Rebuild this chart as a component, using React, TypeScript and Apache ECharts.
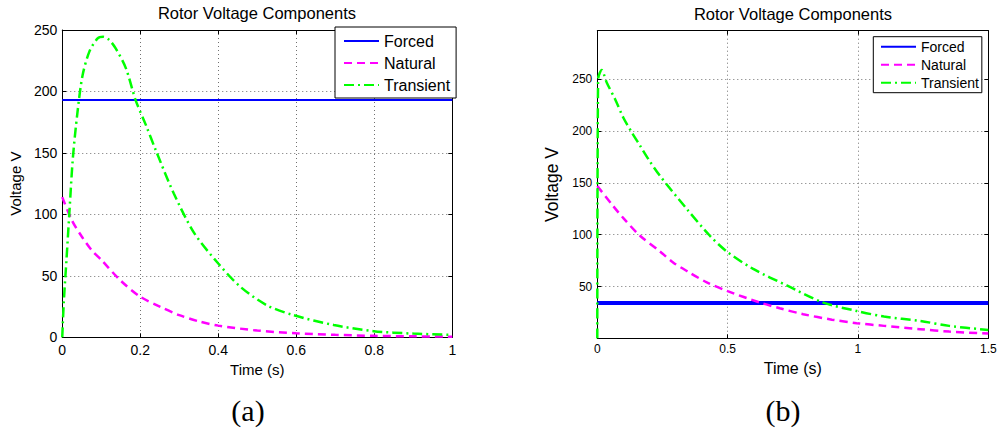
import React, { useEffect, useRef } from "react";
import * as echarts from "echarts";

// ---------- data ----------
const titleText = "Rotor Voltage Components";
const seriesNames = ["Forced", "Natural", "Transient"];

// (a)
const aForcedT = [0, 1];
const aForcedV = [193, 193];
const aNaturalT = [0, 0.025, 0.05, 0.075, 0.1, 0.15, 0.2, 0.25, 0.3, 0.35, 0.4, 0.5, 0.6, 0.7, 0.8, 0.9, 1.0];
const aNaturalV = [114, 95, 82, 71, 63, 46, 33, 25, 18, 13, 9.5, 5.5, 3.3, 2, 1.2, 0.8, 0.5];
const aTransientT = [0, 0.004, 0.011, 0.018, 0.027, 0.039, 0.052, 0.069, 0.09, 0.105, 0.12, 0.137, 0.163, 0.188, 0.214, 0.24, 0.286, 0.338, 0.4, 0.457, 0.525, 0.593, 0.696, 0.798, 0.9, 1.0];
const aTransientV = [0, 29, 64, 100, 145, 183, 213, 232, 243, 244.5, 242, 235, 219, 193, 173, 152, 117, 85, 60, 41, 26, 18, 10, 5, 3, 2];

// (b)
const bForcedT = [0, 1.5];
const bForcedV = [34, 34];
const bNaturalT = [0, 0.06, 0.1, 0.164, 0.24, 0.292, 0.35, 0.42, 0.5, 0.624, 0.7, 0.79, 0.9, 0.995, 1.1, 1.238, 1.35, 1.5];
const bNaturalV = [147, 128, 116, 99, 84, 73, 64, 54, 45.5, 34.5, 29, 23.3, 18, 14.6, 12, 8.8, 6.5, 4.6];
const bTransientT = [0, 0.003, 0.017, 0.036, 0.068, 0.1, 0.132, 0.164, 0.196, 0.24, 0.343, 0.432, 0.496, 0.598, 0.727, 0.867, 0.995, 1.1, 1.238, 1.35, 1.5];
const bTransientV = [0, 250, 259, 247, 231, 213, 199, 186, 173, 157, 125, 99, 84, 67, 51, 34.5, 26.4, 21, 16.8, 12, 8.1];

const FONT = '"Liberation Sans", Arial, Helvetica, sans-serif';
const BLUE = "#0000ff";
const MAGENTA = "#ff00ff";
const GREEN = "#00ff00";

const zip = (t: number[], v: number[]) => t.map((x, i) => [x, v[i]]);

type Cfg = {
  grid: { left: number; top: number; width: number; height: number };
  xMax: number;
  xInterval: number;
  yMax: number;
  hideMinMaxY: boolean;
  tickFont: number;
  xLabelMargin: number;
  xNameGap: number;
  xNameFont: number;
  yNameGap: number;
  yNameFont: number;
  titleX: number;
  titleY: number;
  caption: string;
  captionX: number;
  legend: { left: number; top: number; padding: number[]; font: number; itemHeight: number; itemGap: number };
  forcedWidth: number;
  forced: number[][];
  natural: number[][];
  transient: number[][];
};

function makeOption(c: Cfg): any {
  const gridLine = { show: true, lineStyle: { color: "#707070", type: [1, 3], width: 1 } };
  const axisLine = { show: true, onZero: false, lineStyle: { color: "#000", width: 1 } };
  const tick = { show: true, inside: true, length: 4, lineStyle: { color: "#000" } };
  const hidden = { opacity: 0 };
  return {
    animation: false,
    grid: { ...c.grid, containLabel: false },
    graphic: [
      {
        type: "text",
        x: c.titleX,
        y: c.titleY,
        style: { text: titleText, align: "center", verticalAlign: "middle", font: `16.5px ${FONT}`, fill: "#000" },
      },
      {
        type: "text",
        x: c.captionX,
        y: 410,
        style: { text: c.caption, align: "center", verticalAlign: "middle", font: `30px "Liberation Serif", "DejaVu Serif", serif`, fill: "#000" },
      },
    ],
    legend: {
      orient: "vertical",
      left: c.legend.left,
      top: c.legend.top,
      padding: c.legend.padding,
      itemWidth: 35,
      itemHeight: c.legend.itemHeight,
      itemGap: c.legend.itemGap,
      backgroundColor: "#fff",
      borderColor: "#000",
      borderWidth: 1,
      borderRadius: 0,
      z: 10,
      itemStyle: hidden,
      textStyle: { fontFamily: FONT, fontSize: c.legend.font, color: "#000" },
      data: seriesNames,
    },
    xAxis: [
      {
        type: "value",
        min: 0,
        max: c.xMax,
        interval: c.xInterval,
        name: "Time (s)",
        nameLocation: "middle",
        nameGap: c.xNameGap,
        nameTextStyle: { fontFamily: FONT, fontSize: c.xNameFont, color: "#000" },
        axisLine,
        axisTick: tick,
        axisLabel: { fontFamily: FONT, fontSize: c.tickFont, color: "#000", margin: c.xLabelMargin },
        splitLine: gridLine,
      },
      {
        type: "value",
        position: "top",
        min: 0,
        max: c.xMax,
        interval: c.xInterval,
        axisLine,
        axisTick: tick,
        axisLabel: { show: false },
        splitLine: { show: false },
      },
    ],
    yAxis: [
      {
        type: "value",
        min: 0,
        max: c.yMax,
        interval: 50,
        name: "Voltage V",
        nameLocation: "middle",
        nameGap: c.yNameGap,
        nameTextStyle: { fontFamily: FONT, fontSize: c.yNameFont, color: "#000" },
        axisLine,
        axisTick: tick,
        axisLabel: {
          fontFamily: FONT,
          fontSize: c.tickFont,
          color: "#000",
          margin: 5,
          showMinLabel: !c.hideMinMaxY,
          showMaxLabel: !c.hideMinMaxY,
        },
        splitLine: gridLine,
      },
      {
        type: "value",
        position: "right",
        min: 0,
        max: c.yMax,
        interval: 50,
        axisLine,
        axisTick: tick,
        axisLabel: { show: false },
        splitLine: { show: false },
      },
    ],
    series: [
      {
        name: "Forced",
        type: "line",
        data: c.forced,
        symbol: "none",
        lineStyle: { color: BLUE, width: c.forcedWidth, type: "solid" },
        itemStyle: { color: BLUE, opacity: 0 },
        z: 3,
      },
      {
        name: "Natural",
        type: "line",
        data: c.natural,
        symbol: "none",
        smooth: 0.3,
        lineStyle: { color: MAGENTA, width: 2.5, type: [8, 5], cap: "butt" },
        itemStyle: { color: MAGENTA, opacity: 0 },
        z: 4,
      },
      {
        name: "Transient",
        type: "line",
        data: c.transient,
        symbol: "none",
        smooth: 0.3,
        lineStyle: { color: GREEN, width: 2.5, type: [10, 4, 2, 4], cap: "butt" },
        itemStyle: { color: GREEN, opacity: 0 },
        z: 5,
      },
    ],
  };
}

const cfgA: Cfg = {
  grid: { left: 61.3, top: 30, width: 391, height: 307.3 },
  xMax: 1,
  xInterval: 0.2,
  yMax: 250,
  hideMinMaxY: false,
  tickFont: 14,
  xLabelMargin: 6,
  xNameGap: 21,
  xNameFont: 15,
  yNameGap: 28,
  yNameFont: 15,
  titleX: 257,
  titleY: 12.5,
  caption: "(a)",
  captionX: 248,
  legend: { left: 335, top: 27, padding: [6, 6, 5, 8], font: 16, itemHeight: 16, itemGap: 6 },
  forcedWidth: 2,
  forced: zip(aForcedT, aForcedV),
  natural: zip(aNaturalT, aNaturalV),
  transient: zip(aTransientT, aTransientV),
};

const cfgB: Cfg = {
  grid: { left: 97.3, top: 30.7, width: 391, height: 307.6 },
  xMax: 1.5,
  xInterval: 0.5,
  yMax: 297,
  hideMinMaxY: true,
  tickFont: 12,
  xLabelMargin: 5,
  xNameGap: 20,
  xNameFont: 16,
  yNameGap: 24,
  yNameFont: 17.5,
  titleX: 293,
  titleY: 14,
  caption: "(b)",
  captionX: 283,
  legend: { left: 373.3, top: 36.7, padding: [3, 3, 3, 6.7], font: 14, itemHeight: 14, itemGap: 4 },
  forcedWidth: 4,
  forced: zip(bForcedT, bForcedV),
  natural: zip(bNaturalT, bNaturalV),
  transient: zip(bTransientT, bTransientV),
};

function Chart({ cfg, left }: { cfg: Cfg; left: number }) {
  const ref = useRef<HTMLDivElement>(null);
  useEffect(() => {
    if (!ref.current) return;
    const chart = echarts.init(ref.current, undefined, { renderer: "svg" });
    chart.setOption(makeOption(cfg));
    return () => chart.dispose();
  }, [cfg]);
  return <div ref={ref} style={{ position: "absolute", left, top: 0, width: 500, height: 432 }} />;
}

export default function App() {
  return (
    <div style={{ position: "absolute", left: 0, top: 0, width: 1000, height: 432, background: "#fff" }}>
      <Chart cfg={cfgA} left={0} />
      <Chart cfg={cfgB} left={500} />
    </div>
  );
}
